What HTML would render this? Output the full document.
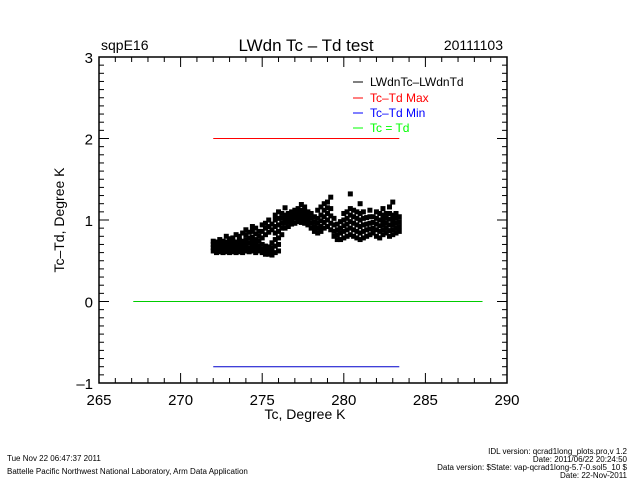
<!DOCTYPE html>
<html><head><meta charset="utf-8"><style>
body{margin:0;background:#fff;}
svg{display:block;font-family:"Liberation Sans",sans-serif;}
</style></head><body>
<svg id="chart" width="640" height="480" viewBox="0 0 640 480">
<rect width="640" height="480" fill="#fff"/>
<text x="101" y="50" font-size="14">sqpE16</text>
<text x="306" y="51" font-size="17" text-anchor="middle">LWdn Tc – Td test</text>
<text x="503" y="50" font-size="14" text-anchor="end">20111103</text>
<g id="axes"></g>
<g id="marks"></g>
<g font-size="12">
<line x1="353" x2="363" y1="82" y2="82" stroke="#000"/>
<text x="370" y="86" fill="#000">LWdnTc–LWdnTd</text>
<line x1="353" x2="363" y1="98" y2="98" stroke="#f00"/>
<text x="370" y="102" fill="#f00">Tc–Td Max</text>
<line x1="353" x2="363" y1="113" y2="113" stroke="#00f"/>
<text x="370" y="117" fill="#00f">Tc–Td Min</text>
<line x1="353" x2="363" y1="128" y2="128" stroke="#0f0"/>
<text x="370" y="132" fill="#0f0">Tc = Td</text>
</g>
<text x="305" y="419" font-size="14" text-anchor="middle">Tc, Degree K</text>
<text x="0" y="0" font-size="14" text-anchor="middle" transform="translate(64,220) rotate(-90)">Tc–Td, Degree K</text>
<g font-size="8">
<text x="7" y="461">Tue Nov 22 06:47:37 2011</text>
<text x="7" y="474">Battelle Pacific Northwest National Laboratory, Arm Data Application</text>
<text x="627" y="454" text-anchor="end">IDL version: qcrad1long_plots.pro,v 1.2</text>
<text x="627" y="462" text-anchor="end">Date: 2011/06/22 20:24:50</text>
<text x="627" y="470" text-anchor="end">Data version: $State: vap-qcrad1long-5.7-0.sol5_10 $</text>
<text x="627" y="478" text-anchor="end">Date: 22-Nov-2011</text>
</g>
</svg>
<script>
const xTicks=[265,270,275,280,285,290];
const yTicks=[-1,0,1,2,3];
const colX=[272.0,272.2,272.4,272.6,272.8,273.0,273.2,273.4,273.6,273.8,274.0,274.2,274.4,274.6,274.8,275.0,275.2,275.4,275.6,275.8,276.0,276.2,276.4,276.6,276.8,277.0,277.2,277.4,277.6,277.8,278.0,278.2,278.4,278.6,278.8,279.0,279.2,279.4,279.6,279.8,280.0,280.2,280.4,280.6,280.8,281.0,281.2,281.4,281.6,281.8,282.0,282.2,282.4,282.6,282.8,283.0,283.2,283.4];
const colY=[[0.62,0.66,0.70,0.74],[0.60,0.65,0.69,0.73],[0.61,0.64,0.68,0.72,0.76],[0.60,0.63,0.67,0.71,0.74],[0.61,0.65,0.69,0.73,0.80],[0.60,0.64,0.68,0.72,0.77],[0.61,0.65,0.70,0.74,0.78],[0.60,0.64,0.68,0.73,0.82],[0.61,0.65,0.70,0.75,0.80],[0.60,0.64,0.69,0.74,0.84],[0.62,0.66,0.71,0.76,0.82,0.88],[0.61,0.66,0.72,0.78,0.85],[0.62,0.67,0.73,0.79,0.86,0.92],[0.60,0.65,0.70,0.76,0.83,0.90],[0.62,0.68,0.74,0.80,0.86],[0.60,0.64,0.70,0.78,0.86,0.94],[0.58,0.63,0.68,0.82,0.90,0.96],[0.58,0.62,0.67,0.85,0.92,1.00],[0.57,0.61,0.66,0.72,0.88,0.95],[0.60,0.68,0.76,0.84,0.92,1.00,1.06],[0.62,0.70,0.78,0.86,0.94,1.02,1.10],[0.82,0.90,0.96,1.02,1.08],[0.90,0.96,1.01,1.06,1.15],[0.92,0.98,1.03,1.08],[0.95,1.00,1.05,1.10],[0.96,1.02,1.07,1.12],[0.98,1.03,1.08,1.14],[0.97,1.02,1.07,1.12,1.19],[0.96,1.01,1.06,1.11,1.16],[0.94,1.00,1.05,1.10],[0.90,0.96,1.02,1.08],[0.86,0.92,0.98,1.04],[0.84,0.90,0.96,1.02,1.12],[0.86,0.92,0.99,1.06,1.16],[0.90,0.97,1.04,1.12,1.20],[0.92,1.00,1.08,1.15,1.22],[0.88,0.96,1.05,1.14,1.28],[0.80,0.86,0.94,1.02],[0.76,0.82,0.88,0.95],[0.76,0.84,0.90,0.98],[0.78,0.86,0.93,1.00,1.08],[0.80,0.88,0.95,1.02,1.10],[0.82,0.90,0.98,1.06,1.14,1.32],[0.80,0.88,0.96,1.04,1.12],[0.78,0.86,0.94,1.02,1.10],[0.76,0.84,0.92,1.00,1.08,1.20],[0.78,0.86,0.94,1.02,1.10],[0.80,0.88,0.95,1.03],[0.82,0.89,0.96,1.04,1.12],[0.84,0.90,0.97,1.04],[0.80,0.88,0.95,1.02,1.10],[0.78,0.86,0.93,1.00,1.08],[0.82,0.88,0.94,1.00,1.06,1.14],[0.84,0.90,0.96,1.02,1.08],[0.80,0.87,0.94,1.01,1.08,1.16],[0.82,0.88,0.94,1.00,1.06,1.22],[0.84,0.90,0.96,1.02,1.08],[0.86,0.92,0.98,1.04]];
const maxLine={x0:272.0,x1:283.4,y:2.0};
const minLine={x0:272.0,x1:283.4,y:-0.8};
const zeroLine={x0:267.1,x1:288.5,y:0};
const L=99,R=507,T=57,B=383,X0=265,X1=290,Y0=-1,Y1=3;
function sx(v){return L+(v-X0)/(X1-X0)*(R-L);}
function sy(v){return B-(v-Y0)/(Y1-Y0)*(B-T);}
const NS="http://www.w3.org/2000/svg";
function mk(tag,attrs,parent){const e=document.createElementNS(NS,tag);for(const k in attrs)e.setAttribute(k,attrs[k]);parent.appendChild(e);return e;}
const axes=document.getElementById('axes'),marks=document.getElementById('marks');
let fr=mk('rect',{x:L,y:T,width:R-L,height:B-T,fill:'none',stroke:'#000','stroke-width':1.5},axes);


for(let v=X0;v<=X1;v+=1){const major=(v%5===0);const len=major?10:5;
 let t=mk('line',{x1:sx(v),x2:sx(v),y1:B,y2:B-len,stroke:'#000'},axes);
 let t2=mk('line',{x1:sx(v),x2:sx(v),y1:T,y2:T+len,stroke:'#000'},axes);}
for(let i=0;i<=40;i++){const v=Y0+i*0.1;const major=(i%10===0);const len=major?10:5;
 let t=mk('line',{x1:L,x2:L+len,y1:sy(v),y2:sy(v),stroke:'#000'},axes);
 let t2=mk('line',{x1:R,x2:R-len,y1:sy(v),y2:sy(v),stroke:'#000'},axes);}
xTicks.forEach(v=>{let t=mk('text',{x:sx(v),y:B+22,'font-size':15,'text-anchor':'middle'},axes);t.textContent=v;
 });
yTicks.forEach(v=>{let t=mk('text',{x:L-6,y:sy(v)+6,'font-size':15,'text-anchor':'end'},axes);t.textContent=v<0?'–'+(-v):v;
 });
let z=mk('line',{x1:sx(zeroLine.x0),x2:sx(zeroLine.x1),y1:sy(zeroLine.y),y2:sy(zeroLine.y),stroke:'#0c0'},marks);

let mx=mk('line',{x1:sx(maxLine.x0),x2:sx(maxLine.x1),y1:sy(maxLine.y),y2:sy(maxLine.y),stroke:'#f00'},marks);

let mn=mk('line',{x1:sx(minLine.x0),x2:sx(minLine.x1),y1:sy(minLine.y),y2:sy(minLine.y),stroke:'#00c'},marks);

colX.forEach((x,i)=>{colY[i].forEach(y=>{
 let p=mk('rect',{x:sx(x)-2.5,y:sy(y)-2.5,width:5,height:5,fill:'#000'},marks);
 
 
});});
</script>
</body></html>
